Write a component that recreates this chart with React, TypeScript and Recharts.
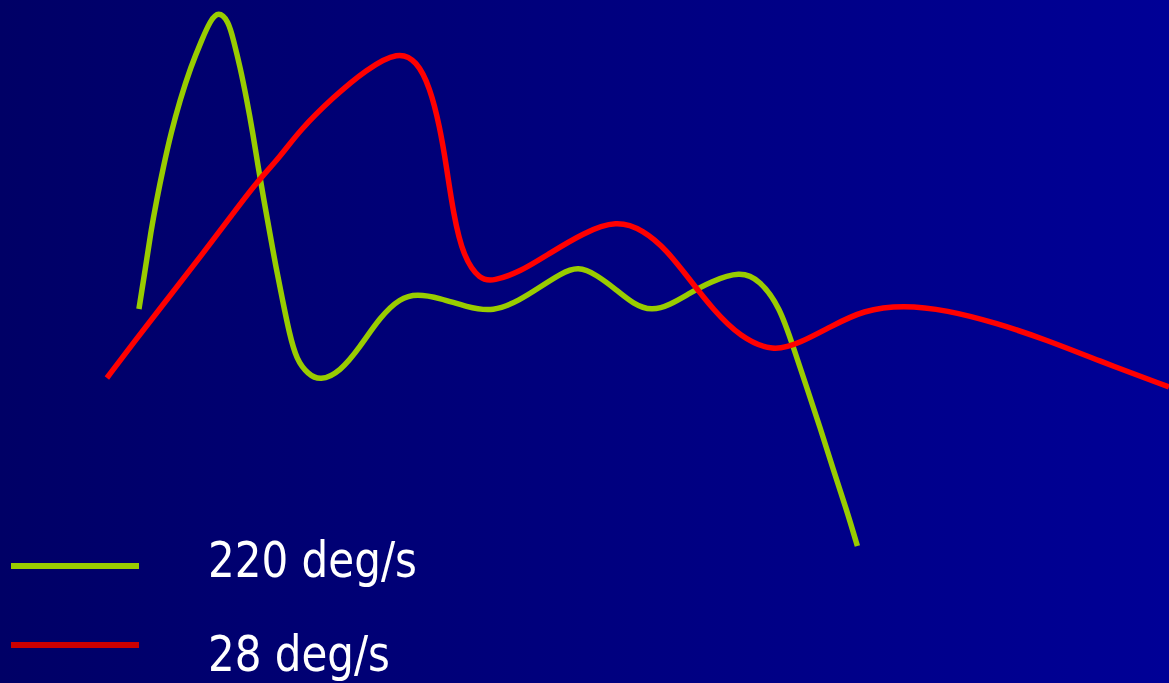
import { LineChart, Line, XAxis, YAxis, Legend } from 'recharts';

// time (ms) vs angle (arbitrary units)
const fastTime = [
  41.6, 43.6, 45.1, 46.9, 48.9, 51.2, 53.9, 57.1, 60.4, 62.9, 65.4, 68.4, 69.9, 71.9, 73.9, 75.7, 77.3, 79.0, 80.8,
  82.6, 84.6, 86.6, 88.8, 92.2, 95.8, 101.8, 107.8, 113.8, 119.8, 124.8, 131.7, 139.7, 147.7, 155.7, 161.7, 167.7,
  173.1, 178.7, 184.6, 189.6, 195.1, 200.6, 206.6, 212.6, 221.6, 227.5, 233.5, 237.5, 241.5, 245.5, 249.5, 253.5, 256.7,
];
const fastAngle = [
  25.1, 29.3, 32.7, 36.0, 39.3, 42.7, 46.0, 49.3, 52.0, 53.9, 54.9, 53.9, 52.0, 49.3, 46.0, 42.7, 39.3, 36.0, 32.7,
  29.3, 26.0, 22.7, 20.0, 18.6, 17.9, 18.8, 21.3, 24.3, 26.2, 26.6, 26.2, 25.3, 24.8, 26.0, 27.3, 28.6,
  29.4, 28.5, 27.0, 25.6, 24.9, 25.5, 26.7, 27.8, 28.9, 28.0, 25.3, 21.3, 17.3, 13.3, 9.0, 5.0, 1.4,
];

const slowTime = [
  32.0, 39.9, 49.9, 59.9, 69.9, 76.9, 83.8, 89.8, 99.8, 109.8, 119.3, 124.8, 128.7, 131.7, 133.7, 135.7, 138.7,
  143.7, 147.7, 155.7, 164.7, 174.6, 184.6, 192.6, 199.6, 206.6, 213.6, 221.6, 231.5, 239.5, 248.5, 258.5, 270.5,
  283.4, 298.4, 313.4, 328.4, 350.0,
];
const slowAngle = [
  18.2, 21.7, 26.0, 30.3, 34.7, 37.8, 40.3, 43.0, 46.3, 49.1, 50.9, 49.9, 47.3, 43.3, 39.3, 34.7, 30.3,
  28.0, 27.9, 28.8, 30.7, 32.7, 34.0, 33.0, 31.0, 28.0, 25.0, 22.3, 20.8, 21.7, 23.3, 25.0, 25.5,
  25.0, 23.7, 22.0, 20.0, 17.3,
];

const seriesNames = ['220 deg/s', '28 deg/s'];
const GREEN = '#99cc00';
const RED = '#ff0000';
const RED_KEY = '#cc0000';

const fastData = fastTime.map((t, i) => ({ t, v: fastAngle[i] }));
const slowData = slowTime.map((t, i) => ({ t, v: slowAngle[i] }));

function KeyBox() {
  const font = '"DejaVu Sans Condensed", "DejaVu Sans", sans-serif';
  return (
    <svg width={1169} height={123} style={{ display: 'block', overflow: 'visible' }}>
      <line x1={11} x2={139} y1={6} y2={6} stroke={GREEN} strokeWidth={6} />
      <text x={208} y={17} fill="#fff" fontSize={50} fontFamily={font} textLength={209} lengthAdjust="spacingAndGlyphs">
        {seriesNames[0]}
      </text>
      <line x1={11} x2={139} y1={85} y2={85} stroke={RED_KEY} strokeWidth={6} />
      <text x={208} y={111} fill="#fff" fontSize={50} fontFamily={font} textLength={182} lengthAdjust="spacingAndGlyphs">
        {seriesNames[1]}
      </text>
    </svg>
  );
}

export default function App() {
  return (
    <div
      style={{
        position: 'absolute',
        left: 0,
        top: 0,
        width: 1169,
        height: 683,
        overflow: 'hidden',
        background: 'linear-gradient(to right, #000066, #000096)',
      }}
    >
      <LineChart width={1169} height={683} margin={{ top: 0, right: 0, bottom: 0, left: 0 }}>
        <XAxis dataKey="t" type="number" domain={[0, 350]} hide allowDataOverflow />
        <YAxis type="number" domain={[0, 56]} hide allowDataOverflow />
        <Legend verticalAlign="bottom" content={() => <KeyBox />} wrapperStyle={{ left: 0, bottom: 0, height: 123, overflow: 'visible' }} />
        <Line data={fastData} dataKey="v" type="basis" stroke={GREEN} strokeWidth={5.5} dot={false} activeDot={false} isAnimationActive={false} />
        <Line data={slowData} dataKey="v" type="basis" stroke={RED} strokeWidth={5.5} dot={false} activeDot={false} isAnimationActive={false} />
      </LineChart>
    </div>
  );
}
